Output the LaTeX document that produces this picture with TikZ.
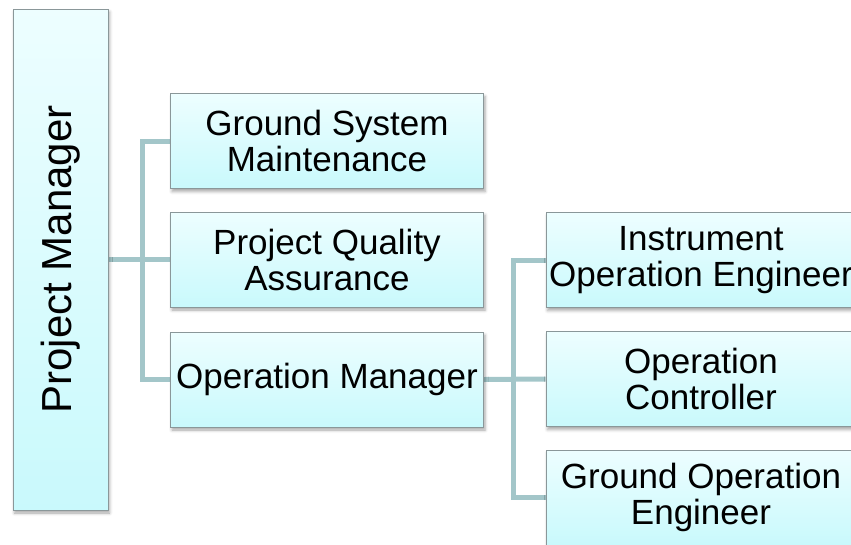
\documentclass[tikz,border=0pt]{standalone}
\usepackage{fontspec}
\setmainfont{Liberation Sans}
\usetikzlibrary{shadows.blur,backgrounds}
\definecolor{boxtop}{HTML}{EDFEFF}
\definecolor{boxbot}{HTML}{C9F9FC}
\definecolor{boxline}{HTML}{8A9799}
\definecolor{linkcol}{HTML}{A3C6C9}
\tikzset{
  unitbox/.style={draw=boxline, line width=0.9pt, top color=boxtop, bottom color=boxbot,
    rectangle, inner sep=0pt, align=center, text=black,
    minimum width=313pt, minimum height=95pt,
    font=\fontsize{35}{36}\selectfont,
    blur shadow={shadow xshift=1.5pt, shadow yshift=-3pt, shadow blur radius=3pt, shadow opacity=35}},
  link/.style={draw=linkcol, line width=5pt}
}
\begin{document}
\begin{tikzpicture}[x=1pt, y=-1pt]
\useasboundingbox (0,0) rectangle (851,544);
\clip (0,0) rectangle (851,544);
% top of the chart
\node[unitbox, minimum width=95pt, minimum height=501pt] (PM) at (60.5,259.5)
  {\rotatebox{90}{\fontsize{42}{44}\selectfont Project Manager}};
% second level
\node[unitbox] (GSM) at (327,141) {Ground System\\Maintenance};
\node[unitbox] (PQA) at (327,259.5) {Project Quality\\Assurance};
\node[unitbox] (OM)  at (327,379.5) {Operation Manager};
% staff under the operation manager
\node[unitbox, minimum width=310pt] (IOE) at (701,260) {Instrument\\Operation Engineer};
\node[unitbox, minimum width=310pt] (OC)  at (701,379) {Operation\\Controller};
\node[unitbox, minimum width=310pt] (GOE) at (701,497.5) {Ground Operation\\Engineer};
% connectors
\coordinate (busL) at (142,0);
\coordinate (busR) at (513,0);
\begin{scope}[on background layer]
\draw[link] (PM.east) -- (PM.east -| busL);
\draw[link] (GSM.west) -- (GSM.west -| busL) -- (OM.west -| busL) -- (OM.west);
\draw[link] (PQA.west) -- (PQA.west -| busL);
\draw[link] (OM.east) -- (OC.west);
\draw[link] (IOE.west) -- (IOE.west -| busR) -- (GOE.west -| busR) -- (GOE.west);
\end{scope}
\end{tikzpicture}
\end{document}
